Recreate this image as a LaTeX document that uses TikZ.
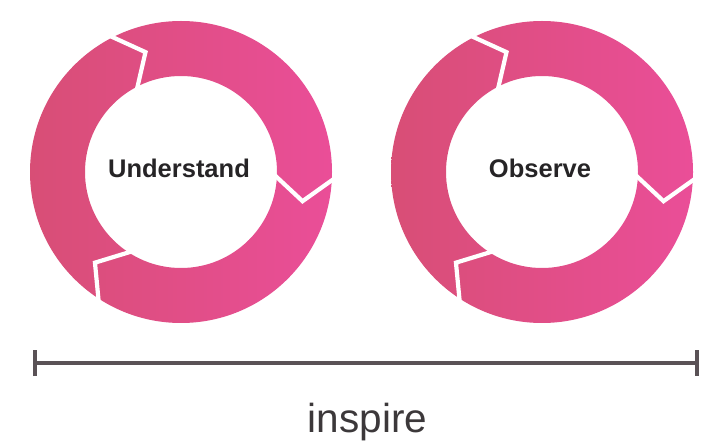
\documentclass[tikz,border=0pt]{standalone}
\usepackage{fontspec}
\setmainfont{Liberation Sans}
\usetikzlibrary{arrows.meta,calc}

\definecolor{ringleft}{RGB}{216,78,118}
\definecolor{ringright}{RGB}{234,78,152}
\definecolor{labelink}{RGB}{38,36,38}
\definecolor{scaleink}{RGB}{90,82,86}
\definecolor{captionink}{RGB}{60,56,58}

% outer radius, inner radius, radius of the arrow tips, tip lag in degrees
\newcommand{\Rout}{151}
\newcommand{\Rin}{96}
\newcommand{\Rmid}{125}
\newcommand{\Tlag}{11.5}

\tikzset{
  ring/.style={left color=ringleft, right color=ringright, even odd rule},
  cutline/.style={draw=white, line width=4.2pt, line join=miter, miter limit=10},
  looplabel/.style={font=\bfseries\fontsize{25.5}{28}\selectfont, text=labelink, anchor=base, inner sep=0pt},
  caption/.style={font=\fontsize{40.5}{44}\selectfont, text=captionink, anchor=base, inner sep=0pt},
  scalebar/.style={draw=scaleink, line width=4pt,
    {Bar[width=26pt,line width=4pt]}-{Bar[width=26pt,line width=4pt]}},
}

% one loop of three clockwise arrows around centre #1
\newcommand{\arrowloop}[1]{%
  \shade[ring] (#1) circle[radius=\Rout] (#1) circle[radius=\Rin];
  \foreach \c in {118,-2,238}{
    \draw[cutline] ($(#1)+(\c:\Rout+4)$) -- ($(#1)+(\c-\Tlag:\Rmid)$) -- ($(#1)+(\c+1:\Rin-4)$);
  }%
}

\begin{document}
\begin{tikzpicture}[x=1pt,y=1pt]
  \useasboundingbox (0,-443) rectangle (701,0);

  \coordinate (leftloop) at (181,-172);
  \coordinate (rightloop) at (542,-172);

  \arrowloop{leftloop}
  \arrowloop{rightloop}

  \node[looplabel] (understand) at (179,-178) {Understand};
  \node[looplabel] (observe) at (540,-178) {Observe};

  \coordinate (scalestart) at (33,-363);
  \coordinate (scaleend) at (699,-363);
  \draw[scalebar] (scalestart) -- (scaleend);

  \node[caption] (inspire) at (367.5,-432) {inspire};
\end{tikzpicture}
\end{document}
